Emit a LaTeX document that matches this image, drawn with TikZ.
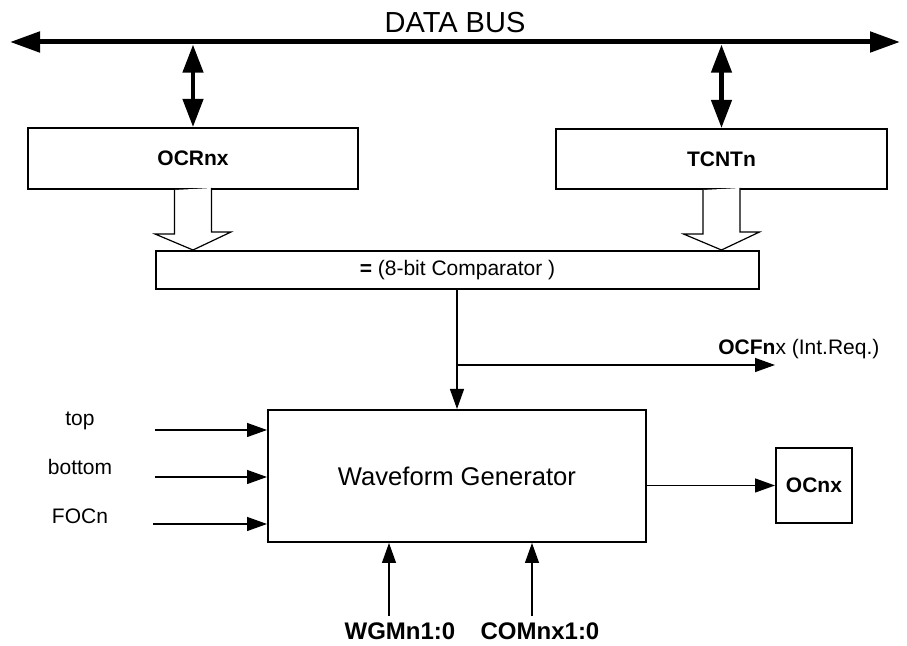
\documentclass[tikz,border=0pt]{standalone}
\usepackage{fontspec}
\setmainfont{Liberation Sans}
\usetikzlibrary{arrows.meta}

\tikzset{
  block/.style={draw, line width=1pt, inner sep=0pt, font=\fontsize{10.5}{12}\selectfont\bfseries},
  lbl/.style={inner sep=0pt, font=\fontsize{10.5}{12}\selectfont},
  wire/.style={line width=0.65pt, -{Triangle[length=10pt,width=7pt]}},
  busline/.style={line width=2.5pt, {Triangle[length=15pt,width=10pt]}-{Triangle[length=15pt,width=10pt]}},
  busarrow/.style={line width=2.2pt, {Triangle[length=14pt,width=10pt]}-{Triangle[length=14pt,width=10pt]}, shorten <=1.3pt},
  hollow/.style={line width=0.6pt, fill=white}
}

\begin{document}
\begin{tikzpicture}[x=0.5pt,y=-0.5pt]
\useasboundingbox (0,0) rectangle (907,646);
\coordinate (busL) at (10,42);
\coordinate (busR) at (900,42);
\node[lbl, font=\fontsize{14.5}{16}\selectfont] (bus) at (455,23) {DATA BUS};
\node[block, minimum width=165pt, minimum height=30.5pt] (ocr) at (193,158.5) {OCRnx};
\node[block, minimum width=165.5pt, minimum height=30pt] (tcnt) at (721.5,159) {TCNTn};
\node[block, minimum width=301.5pt, minimum height=19pt, font=\fontsize{10.5}{12}\selectfont] (cmp) at (457.5,270) {\textbf{=} (8-bit Comparator )};
\node[block, minimum width=189pt, minimum height=66pt, font=\fontsize{12.8}{14}\selectfont] (wave) at (457,476) {Waveform Generator};
\node[block, minimum width=38pt, minimum height=37.5pt] (ocn) at (814,485.5) {OCnx};
\node[lbl, anchor=west] (ocflbl) at (718,349) {\textbf{OCFn}x (Int.Req.)};
\node[lbl] (toplbl) at (80,421) {top};
\node[lbl] (botlbl) at (80,467) {bottom};
\node[lbl] (foclbl) at (80,516) {FOCn};
\node[lbl, font=\fontsize{12}{14}\selectfont\bfseries] (wgmlbl) at (400,631) {WGMn1:0};
\node[lbl, font=\fontsize{12}{14}\selectfont\bfseries] (comlbl) at (540,631) {COMnx1:0};
\coordinate (ocf) at (775,365);
\coordinate (topin) at (155,430);
\coordinate (botin) at (155,477);
\coordinate (focin) at (153,524);
\coordinate (wgmin) at (389,616);
\coordinate (comin) at (532,616);
\draw[busline] (busL) -- (busR);
\draw[busarrow] (ocr.north |- busL) -- (ocr.north);
\draw[busarrow] (tcnt.north |- busL) -- (tcnt.north);
\draw[hollow] (ocr.south) ++(-18.5,0) -- ++(0,44) -- ++(-19.5,0) -- (ocr.south |- cmp.north) -- ++(38,-18) -- ++(-19.5,0) -- ++(0,-44);
\draw[hollow] (tcnt.south) ++(-18.5,0) -- ++(0,44) -- ++(-19.5,0) -- (tcnt.south |- cmp.north) -- ++(38,-18) -- ++(-19.5,0) -- ++(0,-44);
\draw[wire] (cmp.south -| wave.north) -- (wave.north);
\draw[wire] (wave.north |- ocf) -- (ocf);
\draw[wire] (topin) -- (topin -| wave.west);
\draw[wire] (botin) -- (botin -| wave.west);
\draw[wire] (focin) -- (focin -| wave.west);
\draw[wire] (wave.east |- ocn.west) -- (ocn.west);
\draw[wire] (wgmin) -- (wgmin |- wave.south);
\draw[wire] (comin) -- (comin |- wave.south);
\end{tikzpicture}
\end{document}
